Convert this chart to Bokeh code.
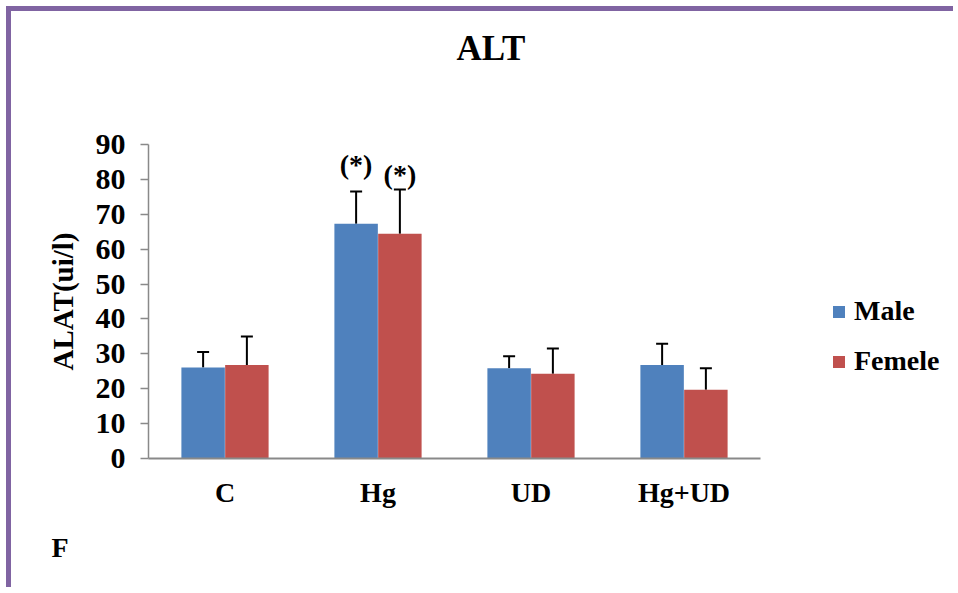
import numpy as np
from bokeh.plotting import figure
from bokeh.models import (ColumnDataSource, Range1d, FixedTicker, Whisker, TeeHead,
                          Legend, LegendItem, Title)
from bokeh.core.properties import value
from bokeh.embed import file_html
from bokeh.resources import INLINE

# ---- data ----
groups = ["C", "Hg", "UD", "Hg+UD"]
male = [26.1, 67.3, 25.9, 26.8]
male_sd = [4.4, 9.2, 3.4, 6.1]
female = [26.8, 64.4, 24.3, 19.7]
female_sd = [8.2, 12.7, 7.2, 6.2]
star_text = ["(*)", "(*)"]
star_y = [84.3, 81.4]
y_ticks = [0, 10, 20, 30, 40, 50, 60, 70, 80, 90]

FONT = "Liberation Serif"
BLUE = "#4F81BD"
RED = "#C0504D"
GRAY = "#898989"

n = len(groups)
centers = np.arange(n) + 0.5
off = 0.143
bw = 0.284

W, H = 947, 581
LEFT, TOP, BOTTOM = 137, 133, 134
frame_w = W - LEFT
x_end = n * frame_w / 612.0   # frame extends right to hold the legend

p = figure(width=W, height=H, output_backend="svg", toolbar_location=None, title=None,
           x_range=Range1d(0, x_end), y_range=Range1d(0, 90),
           min_border_left=LEFT, min_border_top=TOP, min_border_right=0,
           min_border_bottom=BOTTOM)
p.styles = {"border-top": "5px solid #8064A2", "border-left": "5px solid #8064A2",
            "margin-top": "6px", "margin-left": "6px"}
p.outline_line_color = None
p.xgrid.visible = False
p.ygrid.visible = False
p.background_fill_color = "white"
p.border_fill_color = "white"

ms = ColumnDataSource(dict(x=centers - off, top=male,
                           upper=[m + s for m, s in zip(male, male_sd)]))
fs = ColumnDataSource(dict(x=centers + off, top=female,
                           upper=[m + s for m, s in zip(female, female_sd)]))

rm = p.vbar(x="x", top="top", width=bw, bottom=0, source=ms, fill_color=BLUE, line_color=None)
rf = p.vbar(x="x", top="top", width=bw, bottom=0, source=fs, fill_color=RED, line_color=None)

for src in (ms, fs):
    w = Whisker(source=src, base="x", upper="upper", lower="top",
                line_color="black", line_width=2,
                upper_head=TeeHead(size=12, line_width=2, line_color="black"),
                lower_head=None)
    p.add_layout(w)

# significance labels
ss = ColumnDataSource(dict(x=[centers[1] - off, centers[1] + off], y=star_y, t=star_text))
p.text(x="x", y="y", text="t", source=ss, text_align="center", text_baseline="middle",
       text_font=value(FONT), text_font_style="bold", text_font_size="28px", text_color="black")

# axes
p.xaxis.bounds = (0, n)
p.xaxis.ticker = FixedTicker(ticks=list(centers))
p.xaxis.major_label_overrides = {float(c): g for c, g in zip(centers, groups)}
p.xaxis.major_tick_line_color = None
p.xaxis.minor_tick_line_color = None
p.xaxis.axis_line_color = GRAY
p.xaxis.axis_line_width = 2
p.xaxis.major_label_text_font = FONT
p.xaxis.major_label_text_font_style = "bold"
p.xaxis.major_label_text_font_size = "28px"
p.xaxis.major_label_text_color = "black"
p.xaxis.major_label_standoff = 12

p.yaxis.ticker = FixedTicker(ticks=y_ticks)
p.yaxis.minor_tick_line_color = None
p.yaxis.axis_line_color = GRAY
p.yaxis.axis_line_width = 1.5
p.yaxis.major_tick_line_color = GRAY
p.yaxis.major_tick_line_width = 1.5
p.yaxis.major_tick_out = 8
p.yaxis.major_tick_in = 0
p.yaxis.major_label_text_font = FONT
p.yaxis.major_label_text_font_style = "bold"
p.yaxis.major_label_text_font_size = "30px"
p.yaxis.major_label_text_color = "black"
p.yaxis.major_label_standoff = 15
p.yaxis.axis_label = "ALAT(ui/l)"
p.yaxis.axis_label_text_font = FONT
p.yaxis.axis_label_text_font_style = "bold"
p.yaxis.axis_label_text_font_size = "29px"
p.yaxis.axis_label_text_color = "black"
p.yaxis.axis_label_standoff = 14

# spacer next to the frame, then the title above it
p.add_layout(Title(text=".", text_font_size="1px", text_color="white", standoff=69), "above")
p.add_layout(Title(text="ALT", align="left", offset=308, standoff=10, text_font=FONT,
                   text_font_style="bold", text_font_size="35px", text_color="black"),
             "above")

# legend
legend = Legend(items=[LegendItem(label="Male", renderers=[rm]),
                       LegendItem(label="Femele", renderers=[rf])],
                location=(683, 81), orientation="vertical",
                glyph_width=15, glyph_height=15, label_standoff=8, spacing=18,
                padding=0, margin=0, border_line_color=None, background_fill_alpha=0,
                label_text_font=FONT, label_text_font_style="bold",
                label_text_font_size="28px", label_text_color="black")
p.add_layout(legend, "center")

# panel letter
p.add_layout(Title(text="F", align="left", offset=-97, standoff=38, text_font=FONT,
                   text_font_style="bold", text_font_size="28px", text_color="black"),
             "below")

open("out.html", "w").write(file_html(p, INLINE))
